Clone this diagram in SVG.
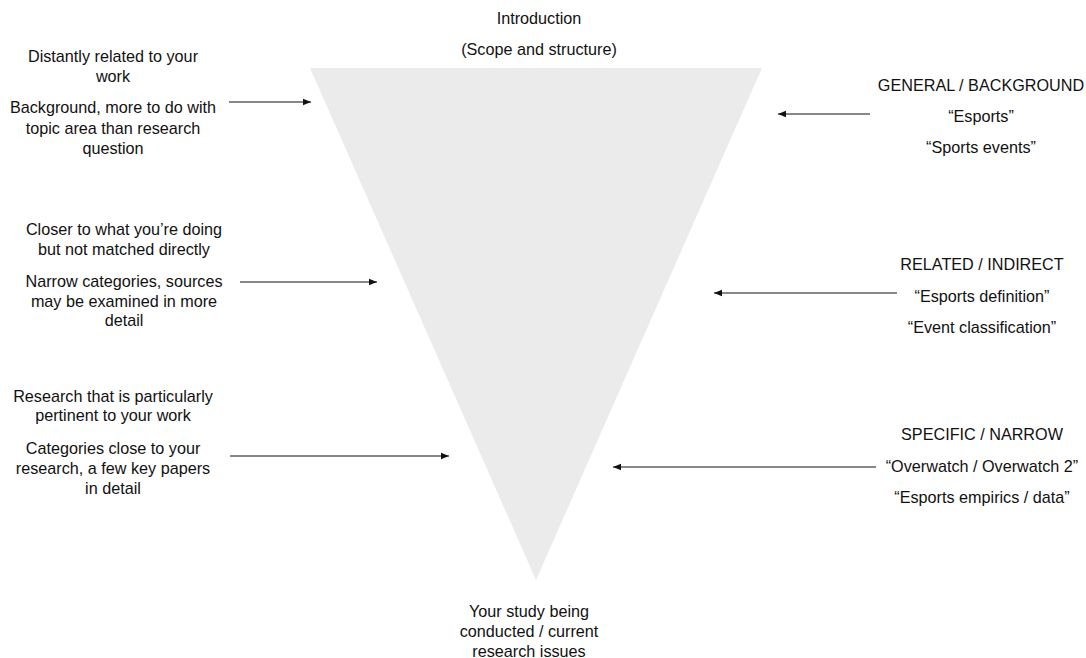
<svg xmlns="http://www.w3.org/2000/svg" width="1086" height="658" viewBox="0 0 1086 658">
<defs>
<style>
text{font-family:"Liberation Sans",Arial,sans-serif;font-size:16.2px;fill:#111;text-anchor:middle}
.c{stroke:#111;stroke-width:1;fill:none}
</style>
<marker id="ah" viewBox="0 0 10 10" refX="10" refY="5" markerWidth="8" markerHeight="8" markerUnits="userSpaceOnUse" orient="auto"><path d="M0,1 L10,5 L0,9 z" fill="#111"/></marker>
</defs>
<rect width="1086" height="658" fill="#fff"/>
<g id="funnel"><polygon points="310,68 762,68 536,580" fill="#ebebeb"/></g>
<g id="intro"><text x="539" y="24">Introduction</text><text x="539" y="55">(Scope and structure)</text></g>
<g id="study"><text x="529" y="617">Your study being</text><text x="529" y="637">conducted / current</text><text x="529" y="657">research issues</text></g>
<g id="left1"><text x="113" y="62">Distantly related to your</text><text x="113" y="82">work</text><text x="113" y="113">Background, more to do with</text><text x="113" y="134">topic area than research</text><text x="113" y="154">question</text></g>
<g id="left2"><text x="124" y="235">Closer to what you’re doing</text><text x="124" y="255">but not matched directly</text><text x="124" y="287">Narrow categories, sources</text><text x="124" y="307">may be examined in more</text><text x="124" y="326">detail</text></g>
<g id="left3"><text x="113" y="402">Research that is particularly</text><text x="113" y="421">pertinent to your work</text><text x="113" y="454">Categories close to your</text><text x="113" y="474">research, a few key papers</text><text x="113" y="494">in detail</text></g>
<g id="right1"><text x="981" y="91">GENERAL / BACKGROUND</text><text x="981" y="122">“Esports”</text><text x="981" y="153">“Sports events”</text></g>
<g id="right2"><text x="982" y="270">RELATED / INDIRECT</text><text x="982" y="302">“Esports definition”</text><text x="982" y="333">“Event classification”</text></g>
<g id="right3"><text x="982" y="440">SPECIFIC / NARROW</text><text x="982" y="472">“Overwatch / Overwatch 2”</text><text x="982" y="503">“Esports empirics / data”</text></g>
<g id="connectors">
<line class="c" x1="229" y1="102" x2="311" y2="102" marker-end="url(#ah)"/>
<line class="c" x1="240" y1="282" x2="377" y2="282" marker-end="url(#ah)"/>
<line class="c" x1="230" y1="456" x2="449" y2="456" marker-end="url(#ah)"/>
<line class="c" x1="870" y1="114" x2="778" y2="114" marker-end="url(#ah)"/>
<line class="c" x1="897" y1="293" x2="714" y2="293" marker-end="url(#ah)"/>
<line class="c" x1="876" y1="467" x2="613" y2="467" marker-end="url(#ah)"/>
</g>
</svg>
